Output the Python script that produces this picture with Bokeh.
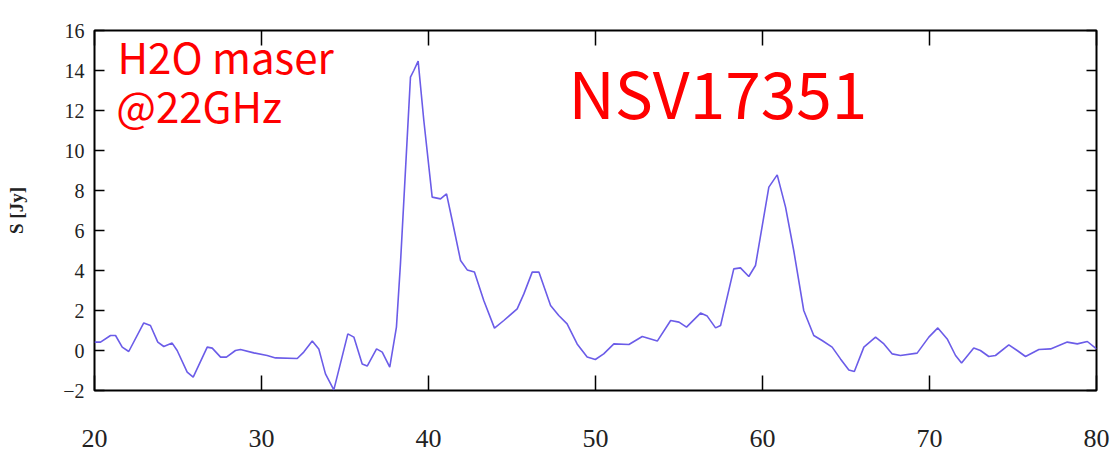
from bokeh.plotting import figure
from bokeh.models import Range1d, LinearAxis, FixedTicker, Label
from bokeh.embed import file_html
from bokeh.resources import INLINE

velocity = [20.0, 20.36, 20.96, 21.26, 21.66, 22.05, 22.95, 23.35, 23.79, 24.15,
            24.65, 24.95, 25.55, 25.91, 26.75, 27.05, 27.55, 27.9, 28.44, 28.74,
            29.54, 30.34, 30.84, 32.14, 32.53, 33.04, 33.43, 33.83, 34.33, 35.17,
            35.53, 36.03, 36.33, 36.89, 37.23, 37.68, 38.08, 38.32, 38.92, 39.12,
            39.38, 39.72, 40.22, 40.72, 41.08, 41.42, 41.92, 42.32, 42.75, 43.31,
            43.95, 44.51, 45.31, 45.71, 46.21, 46.61, 47.31, 47.8, 48.3, 48.9,
            49.5, 49.99, 50.49, 51.1, 52.0, 52.8, 53.7, 54.5, 55.0, 55.45,
            56.29, 56.69, 57.19, 57.49, 58.28, 58.68, 59.18, 59.58, 60.38, 60.88,
            61.38, 61.87, 62.47, 63.07, 63.57, 64.17, 64.67, 65.17, 65.5, 66.07,
            66.77, 67.27, 67.77, 68.26, 69.26, 69.96, 70.5, 71.06, 71.56, 71.92,
            72.65, 73.05, 73.55, 73.95, 74.75, 75.25, 75.75, 76.55, 77.25, 78.25,
            78.85, 79.45, 80.0]
flux = [0.42, 0.42, 0.75, 0.75, 0.17, -0.05, 1.38, 1.25, 0.42, 0.2,
        0.37, 0.0, -1.08, -1.33, 0.17, 0.12, -0.33, -0.33, 0.0, 0.05,
        -0.12, -0.25, -0.37, -0.4, -0.08, 0.47, 0.08, -1.17, -1.97, 0.83,
        0.67, -0.67, -0.78, 0.08, -0.08, -0.83, 1.17, 4.33, 13.67, 14.0,
        14.47, 11.5, 7.67, 7.58, 7.83, 6.5, 4.5, 4.03, 3.92, 2.5,
        1.12, 1.5, 2.08, 2.83, 3.92, 3.92, 2.25, 1.75, 1.33, 0.33,
        -0.33, -0.45, -0.17, 0.33, 0.3, 0.7, 0.47, 1.5, 1.42, 1.17,
        1.87, 1.72, 1.13, 1.25, 4.08, 4.13, 3.7, 4.25, 8.17, 8.78,
        7.17, 5.0, 2.0, 0.75, 0.5, 0.17, -0.42, -0.97, -1.05, 0.17,
        0.67, 0.33, -0.17, -0.25, -0.13, 0.67, 1.13, 0.58, -0.25, -0.62,
        0.12, 0.0, -0.3, -0.25, 0.28, 0.0, -0.3, 0.05, 0.08, 0.42,
        0.33, 0.45, 0.08]

x_ticks = [20, 30, 40, 50, 60, 70, 80]
y_ticks = [-2, 0, 2, 4, 6, 8, 10, 12, 14, 16]
y_label = "S [Jy]"
title_text = "NSV17351"
note_line1 = "H2O maser"
note_line2 = "@22GHz"

p = figure(width=1110, height=454, output_backend="svg", toolbar_location=None,
           x_range=Range1d(20, 80), y_range=Range1d(-2, 16),
           min_border_left=94, min_border_right=14, min_border_top=30,
           min_border_bottom=64, background_fill_color="white",
           border_fill_color="white")
p.outline_line_color = "black"
p.outline_line_width = 2
p.grid.visible = False

serif = "Liberation Serif"

xa = p.xaxis[0]
xa.ticker = FixedTicker(ticks=x_ticks)
xa.major_tick_in = 15
xa.major_tick_out = 0
xa.minor_tick_line_color = None
xa.axis_line_color = None
xa.major_tick_line_width = 1.5
xa.major_tick_line_color = "black"
xa.major_label_text_font = serif
xa.major_label_text_font_size = "26px"
xa.major_label_text_color = "#222222"
xa.major_label_standoff = 39

ya = p.yaxis[0]
ya.ticker = FixedTicker(ticks=y_ticks)
ya.major_tick_in = 10
ya.major_tick_out = 0
ya.minor_tick_line_color = None
ya.axis_line_color = None
ya.major_tick_line_width = 1.5
ya.major_tick_line_color = "black"
ya.major_label_text_font = serif
ya.major_label_text_font_size = "20px"
ya.major_label_text_color = "#222222"
ya.major_label_standoff = 10
ya.axis_label = y_label
ya.axis_label_text_font = serif
ya.axis_label_text_font_style = "bold"
ya.axis_label_text_font_size = "19px"
ya.axis_label_text_color = "#222222"
ya.axis_label_standoff = 33

top = LinearAxis(ticker=FixedTicker(ticks=x_ticks), major_tick_in=15, major_tick_out=0,
                 minor_tick_line_color=None, axis_line_color=None,
                 major_tick_line_width=1.5, major_tick_line_color="black",
                 major_label_overrides={t: "" for t in x_ticks})
p.add_layout(top, "above")
right = LinearAxis(ticker=FixedTicker(ticks=y_ticks), major_tick_in=10, major_tick_out=0,
                   minor_tick_line_color=None, axis_line_color=None,
                   major_tick_line_width=1.5, major_tick_line_color="black",
                   major_label_overrides={t: "" for t in y_ticks})
p.add_layout(right, "right")

p.line(velocity, flux, line_color="#6b5ce8", line_width=1.6)

font = "Noto Sans CJK JP"
p.add_layout(Label(x=21.38, y=14.75, text=note_line1, text_color="red",
                   text_font=font, text_font_size="42px", text_baseline="alphabetic"))
p.add_layout(Label(x=21.3, y=12.3, text=note_line2, text_color="red",
                   text_font=font, text_font_size="42px", text_baseline="alphabetic"))
p.add_layout(Label(x=48.38, y=13.0, text=title_text, text_color="red",
                   text_font=font, text_font_size="64px", text_baseline="alphabetic"))

open("out.html", "w").write(file_html(p, INLINE))
